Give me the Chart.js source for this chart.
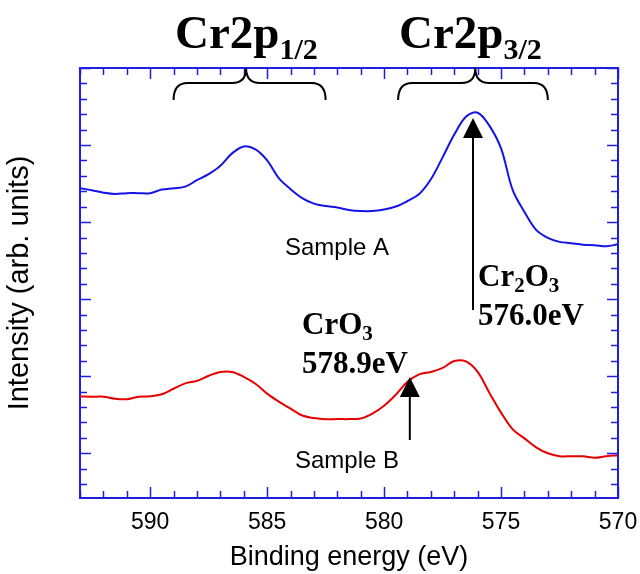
<!DOCTYPE html>
<html>
<head>
<meta charset="utf-8">
<script src="https://cdn.jsdelivr.net/npm/chart.js@4.4.0/dist/chart.umd.min.js"></script>
<style>
  html, body { margin: 0; padding: 0; background: #fff; }
</style>
</head>
<body>
<canvas id="xpsChart" width="640" height="574"></canvas>
<script>
// binding energy (eV), every 0.5 eV
const energies = [593, 592.5, 592, 591.5, 591, 590.5, 590, 589.5, 589, 588.5,
  588, 587.5, 587, 586.5, 586, 585.5, 585, 584.5, 584, 583.5,
  583, 582.5, 582, 581.5, 581, 580.5, 580, 579.5, 579, 578.5,
  578, 577.5, 577, 576.5, 576, 575.5, 575, 574.5, 574, 573.5,
  573, 572.5, 572, 571.5, 571, 570.5, 570];

// intensity, arbitrary units (curves are offset as in the figure)
const sampleA = [17.20, 17.07, 16.91, 16.82, 16.88, 16.88, 16.88, 17.11, 17.20, 17.30,
  17.72, 18.11, 18.65, 19.46, 19.91, 19.72, 19.01, 17.85, 17.14, 16.56,
  16.20, 16.04, 15.95, 15.79, 15.72, 15.72, 15.82, 16.01, 16.37, 16.82,
  17.78, 19.20, 20.68, 21.84, 22.10, 21.26, 19.78, 17.07, 15.66, 14.50,
  13.98, 13.72, 13.63, 13.53, 13.50, 13.43, 13.56];

const sampleB = [3.69, 3.67, 3.67, 3.54, 3.51, 3.67, 3.70, 3.83, 4.19, 4.54,
  4.70, 5.03, 5.28, 5.28, 4.96, 4.51, 3.87, 3.35, 2.90, 2.45,
  2.29, 2.21, 2.22, 2.22, 2.26, 2.58, 3.09, 3.80, 4.64, 5.12,
  5.28, 5.54, 5.99, 5.96, 5.28, 3.93, 2.64, 1.55, 0.97, 0.39,
  0.00, -0.19, -0.19, -0.19, -0.29, -0.19, -0.13];

const xMajorStep = 5;
const yMajorStep = 5;

// peak markers
const peakCr2O3 = 576.2;
const peakCrO3 = 578.9;
// brace ranges for the spin-orbit components [from, to, tip]
const brace12 = [589.0, 582.5, 585.9];
const brace32 = [579.4, 573.0, 576.1];

const AXIS_BLUE = '#1f1fe0';
const SANS = '"Liberation Sans", Arial, Helvetica, sans-serif';
const SERIF = '"Liberation Serif", "Times New Roman", serif';

function toPoints(ys) {
  return energies.map((e, i) => ({ x: e, y: ys[i] }));
}

// inward tick marks on all four sides, plus top/right frame lines
const frameTicks = {
  id: 'frameTicks',
  afterDraw(chart) {
    const { ctx, chartArea: a, scales: { x, y } } = chart;
    ctx.save();
    ctx.strokeStyle = AXIS_BLUE;
    ctx.lineWidth = 2;
    ctx.beginPath();
    ctx.moveTo(a.left, a.top);
    ctx.lineTo(a.right, a.top);
    ctx.lineTo(a.right, a.bottom);
    ctx.stroke();

    ctx.lineWidth = 1.5;
    ctx.beginPath();
    x.ticks.forEach(t => {
      const px = Math.round(x.getPixelForValue(t.value)) + 0.5;
      const len = t.value % xMajorStep === 0 ? 11 : 7;
      ctx.moveTo(px, a.bottom); ctx.lineTo(px, a.bottom - len);
      ctx.moveTo(px, a.top); ctx.lineTo(px, a.top + len);
    });
    y.ticks.forEach(t => {
      const py = Math.round(y.getPixelForValue(t.value)) + 0.5;
      const len = t.value % yMajorStep === 0 ? 11 : 7;
      ctx.moveTo(a.left, py); ctx.lineTo(a.left + len, py);
      ctx.moveTo(a.right, py); ctx.lineTo(a.right - len, py);
    });
    ctx.stroke();
    ctx.restore();
  }
};

function drawRich(ctx, parts, x, y) {
  // parts: [text, size, baseline shift]
  let cx = x;
  parts.forEach(([txt, size, dy]) => {
    ctx.font = 'bold ' + size + 'px ' + SERIF;
    ctx.fillText(txt, cx, y + dy);
    cx += ctx.measureText(txt).width;
  });
}

function drawBrace(ctx, x1, x2, xm, top) {
  const yMid = top + 15, yEnd = top + 32, r = 14;
  ctx.beginPath();
  ctx.moveTo(x1, yEnd);
  ctx.quadraticCurveTo(x1, yMid, x1 + r, yMid);
  ctx.lineTo(xm - r, yMid);
  ctx.quadraticCurveTo(xm, yMid, xm, top);
  ctx.quadraticCurveTo(xm, yMid, xm + r, yMid);
  ctx.lineTo(x2 - r, yMid);
  ctx.quadraticCurveTo(x2, yMid, x2, yEnd);
  ctx.stroke();
}

function drawArrow(ctx, px, tipY, baseY) {
  ctx.beginPath();
  ctx.moveTo(px, baseY);
  ctx.lineTo(px, tipY + 10);
  ctx.stroke();
  ctx.beginPath();
  ctx.moveTo(px, tipY);
  ctx.lineTo(px - 10, tipY + 20);
  ctx.lineTo(px + 10, tipY + 20);
  ctx.closePath();
  ctx.fill();
}

const annotations = {
  id: 'annotations',
  afterDraw(chart) {
    const { ctx, chartArea: a, scales: { x } } = chart;
    ctx.save();
    ctx.fillStyle = '#000';
    ctx.strokeStyle = '#000';
    ctx.textBaseline = 'alphabetic';

    drawRich(ctx, [['Cr2p', 47, 0], ['1/2', 30, 11]], 175, 48);
    drawRich(ctx, [['Cr2p', 47, 0], ['3/2', 30, 11]], 399, 48);

    ctx.lineWidth = 2;
    drawBrace(ctx, x.getPixelForValue(brace12[0]), x.getPixelForValue(brace12[1]),
      x.getPixelForValue(brace12[2]), a.top);
    drawBrace(ctx, x.getPixelForValue(brace32[0]), x.getPixelForValue(brace32[1]),
      x.getPixelForValue(brace32[2]), a.top);

    drawArrow(ctx, x.getPixelForValue(peakCr2O3), 118, 310);
    drawArrow(ctx, x.getPixelForValue(peakCrO3), 377, 440);

    drawRich(ctx, [['Cr', 31, 0], ['2', 21, 6], ['O', 31, 0], ['3', 21, 6]], 478, 286);
    drawRich(ctx, [['576.0eV', 31, 0]], 478, 325);
    drawRich(ctx, [['CrO', 31, 0], ['3', 21, 6]], 302, 334);
    drawRich(ctx, [['578.9eV', 31, 0]], 302, 373);

    ctx.font = '24px ' + SANS;
    ctx.fillText('Sample A', 285, 255);
    ctx.fillText('Sample B', 295, 468);
    ctx.restore();
  }
};

new Chart(document.getElementById('xpsChart'), {
  type: 'line',
  data: {
    datasets: [
      {
        label: 'Sample A',
        data: toPoints(sampleA),
        borderColor: '#1414e6',
        borderWidth: 2,
        pointRadius: 0,
        tension: 0.35,
        fill: false
      },
      {
        label: 'Sample B',
        data: toPoints(sampleB),
        borderColor: '#e60000',
        borderWidth: 2,
        pointRadius: 0,
        tension: 0.35,
        fill: false
      }
    ]
  },
  options: {
    responsive: false,
    animation: false,
    devicePixelRatio: 1,
    layout: { padding: { top: 68, right: 22, left: 0, bottom: 0 } },
    plugins: {
      legend: { display: false },
      tooltip: { enabled: false }
    },
    scales: {
      x: {
        type: 'linear',
        reverse: true,
        min: 570,
        max: 593,
        afterFit: s => { s.height = 76; s.paddingLeft = 0; s.paddingRight = 0; },
        grid: { display: false },
        border: { display: true, color: AXIS_BLUE, width: 2 },
        ticks: {
          stepSize: 1,
          autoSkip: false,
          maxRotation: 0,
          padding: 3,
          color: '#000',
          font: { family: SANS, size: 23 },
          callback: v => (v % xMajorStep === 0 ? String(v) : '')
        },
        title: {
          display: true,
          text: 'Binding energy (eV)',
          color: '#000',
          font: { family: SANS, size: 27 },
          padding: { top: 0, bottom: 0 }
        }
      },
      y: {
        type: 'linear',
        min: -2.9,
        max: 25,
        afterFit: s => { s.width = 80; s.paddingTop = 0; s.paddingBottom = 0; },
        grid: { display: false },
        border: { display: true, color: AXIS_BLUE, width: 2 },
        ticks: { display: false, stepSize: 1, includeBounds: false },
        title: {
          display: true,
          text: 'Intensity (arb. units)',
          color: '#000',
          font: { family: SANS, size: 29 },
          padding: { top: 3, bottom: 0 }
        }
      }
    }
  },
  plugins: [frameTicks, annotations]
});
</script>
</body>
</html>
